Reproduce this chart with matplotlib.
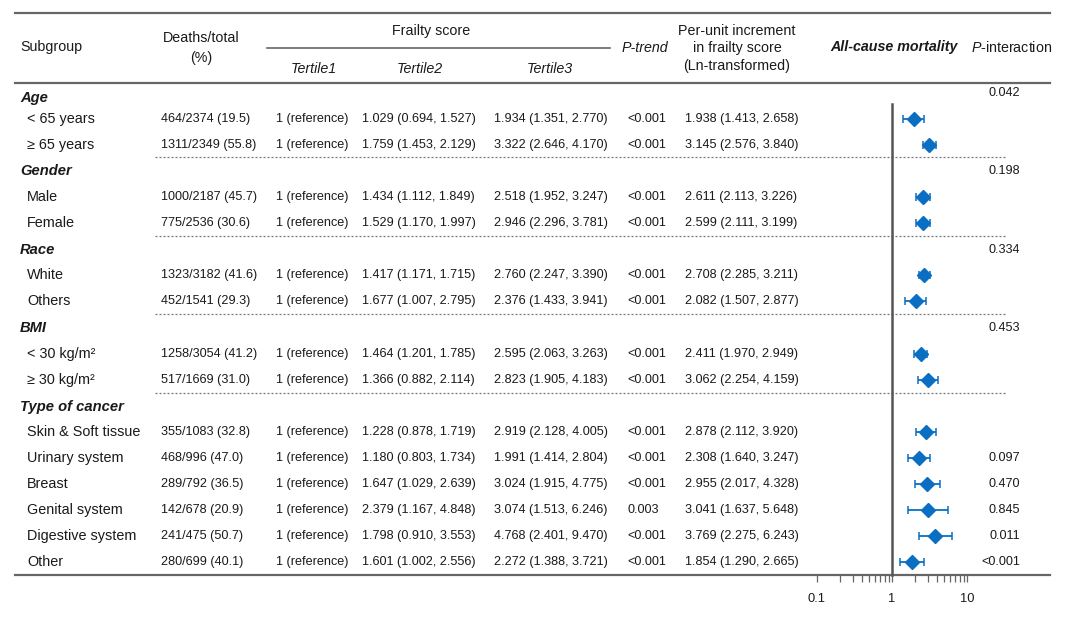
import numpy as np
import matplotlib
matplotlib.use("Agg")
import matplotlib.pyplot as plt
from matplotlib.ticker import FixedLocator, NullFormatter, FixedFormatter

plt.rcParams['font.family'] = ['Liberation Sans', 'DejaVu Sans']
plt.rcParams['mathtext.fontset'] = 'custom'
plt.rcParams['mathtext.rm'] = 'Liberation Sans'
plt.rcParams['mathtext.it'] = 'Liberation Sans:italic'

groups = ["Age", "Gender", "Race", "BMI", "Type of cancer"]
group_p = ["0.042", "0.198", "0.334", "0.453", ""]

subgroups = ["< 65 years", "\u2265 65 years", "Male", "Female", "White", "Others",
             "< 30 kg/m\u00b2", "\u2265 30 kg/m\u00b2", "Skin & Soft tissue",
             "Urinary system", "Breast", "Genital system", "Digestive system", "Other"]

deaths = ["464/2374 (19.5)", "1311/2349 (55.8)", "1000/2187 (45.7)", "775/2536 (30.6)",
          "1323/3182 (41.6)", "452/1541 (29.3)", "1258/3054 (41.2)", "517/1669 (31.0)",
          "355/1083 (32.8)", "468/996 (47.0)", "289/792 (36.5)", "142/678 (20.9)",
          "241/475 (50.7)", "280/699 (40.1)"]

tertile2 = ["1.029 (0.694, 1.527)", "1.759 (1.453, 2.129)", "1.434 (1.112, 1.849)",
            "1.529 (1.170, 1.997)", "1.417 (1.171, 1.715)", "1.677 (1.007, 2.795)",
            "1.464 (1.201, 1.785)", "1.366 (0.882, 2.114)", "1.228 (0.878, 1.719)",
            "1.180 (0.803, 1.734)", "1.647 (1.029, 2.639)", "2.379 (1.167, 4.848)",
            "1.798 (0.910, 3.553)", "1.601 (1.002, 2.556)"]

tertile3 = ["1.934 (1.351, 2.770)", "3.322 (2.646, 4.170)", "2.518 (1.952, 3.247)",
            "2.946 (2.296, 3.781)", "2.760 (2.247, 3.390)", "2.376 (1.433, 3.941)",
            "2.595 (2.063, 3.263)", "2.823 (1.905, 4.183)", "2.919 (2.128, 4.005)",
            "1.991 (1.414, 2.804)", "3.024 (1.915, 4.775)", "3.074 (1.513, 6.246)",
            "4.768 (2.401, 9.470)", "2.272 (1.388, 3.721)"]

p_trend = ["<0.001"] * 11 + ["0.003", "<0.001", "<0.001"]

hr = np.array([1.938, 3.145, 2.611, 2.599, 2.708, 2.082, 2.411, 3.062,
               2.878, 2.308, 2.955, 3.041, 3.769, 1.854])
lo = np.array([1.413, 2.576, 2.113, 2.111, 2.285, 1.507, 1.970, 2.254,
               2.112, 1.640, 2.017, 1.637, 2.275, 1.290])
hi = np.array([2.658, 3.840, 3.226, 3.199, 3.211, 2.877, 2.949, 4.159,
               3.920, 3.247, 4.328, 5.648, 6.243, 2.665])

row_p = ["", "", "", "", "", "", "", "", "", "0.097", "0.470", "0.845", "0.011", "<0.001"]

# ---- layout (pixel coordinates of a 1080x617 canvas) ----
W, H = 1080, 617
header_y = [98, 171, 250, 328, 407]
group_p_y = [93, 171, 250, 328, 407]
row_y = [119, 145, 197, 223, 275, 301, 354, 380, 432, 458, 484, 510, 536, 562]
dash_y = [157, 236, 314, 393]

fig = plt.figure(figsize=(W / 100, H / 100), dpi=100)
ax = fig.add_axes([0, 0, 1, 1])
ax.set_xlim(0, W)
ax.set_ylim(H, 0)
ax.axis('off')

txt = '#1a1a1a'
rule = '#666666'

# rules
ax.plot([15, 1050], [13, 13], color=rule, lw=1.6)
ax.plot([15, 1050], [83, 83], color=rule, lw=1.6)
ax.plot([15, 1050], [575, 575], color=rule, lw=1.6)
ax.plot([267, 610], [48, 48], color=rule, lw=1.2)
for y in dash_y:
    ax.plot([155, 1007], [y, y], color='#777777', lw=0.9, ls=(0, (1.6, 1.6)))

# header
hs = 10.3
ax.text(20, 47, "Subgroup", fontsize=hs, va='center', color=txt)
ax.text(201, 38, "Deaths/total", fontsize=hs, va='center', ha='center', color=txt)
ax.text(201, 58, "(%)", fontsize=hs, va='center', ha='center', color=txt)
ax.text(431, 31, "Frailty score", fontsize=hs, va='center', ha='center', color=txt)
ax.text(314, 69, "Tertile1", fontsize=hs, style='italic', va='center', ha='center', color=txt)
ax.text(420, 69, "Tertile2", fontsize=hs, style='italic', va='center', ha='center', color=txt)
ax.text(550, 69, "Tertile3", fontsize=hs, style='italic', va='center', ha='center', color=txt)
ax.text(645, 48, "P-trend", fontsize=hs, style='italic', va='center', ha='center', color=txt)
ax.text(737, 31, "Per-unit increment", fontsize=hs, va='center', ha='center', color=txt)
ax.text(737, 48, "in frailty score", fontsize=hs, va='center', ha='center', color=txt)
ax.text(737, 66, "(Ln-transformed)", fontsize=hs, va='center', ha='center', color=txt)
ax.text(894, 47, "All-cause mortality", fontsize=hs, style='italic', weight='bold',
        va='center', ha='center', color=txt)
ax.text(1012, 47, r"$\it{P}$-interaction", fontsize=hs, va='center', ha='center', color=txt)

# group headers
for g, y, p, py in zip(groups, header_y, group_p, group_p_y):
    ax.text(20, y, g, fontsize=10.6, style='italic', weight='bold', va='center', color=txt)
    if p:
        ax.text(1020, py, p, fontsize=9.1, va='center', ha='right', color=txt)

# rows
ds = 9.1
for i, y in enumerate(row_y):
    ax.text(27, y, subgroups[i], fontsize=10.4, va='center', color=txt)
    ax.text(161, y, deaths[i], fontsize=ds, va='center', color=txt)
    ax.text(276, y, "1 (reference)", fontsize=ds, va='center', color=txt)
    ax.text(362, y, tertile2[i], fontsize=ds, va='center', color=txt)
    ax.text(494, y, tertile3[i], fontsize=ds, va='center', color=txt)
    ax.text(627, y, p_trend[i], fontsize=ds, va='center', color=txt)
    ax.text(685, y, "%.3f (%.3f, %.3f)" % (hr[i], lo[i], hi[i]), fontsize=ds,
            va='center', color=txt)
    if row_p[i]:
        ax.text(1020, y, row_p[i], fontsize=ds, va='center', ha='right', color=txt)

# forest plot
left, right = 817, 967
top, bottom = 13, 575
fa = fig.add_axes([left / W, (H - bottom) / H, (right - left) / W, (bottom - top) / H])
fa.set_xscale('log')
fa.set_xlim(0.1, 10)
fa.set_ylim(bottom, top)
fa.patch.set_alpha(0)
for s in fa.spines.values():
    s.set_visible(False)
fa.set_yticks([])

blue = '#0a6fc2'
fa.errorbar(hr, row_y, xerr=[hr - lo, hi - hr], fmt='D', color=blue, ms=7,
            elinewidth=1.3, capsize=3, capthick=1.1, clip_on=False)
fa.plot([1, 1], [104, bottom], color='#555555', lw=1.8, clip_on=False)

fa.xaxis.set_major_locator(FixedLocator([0.1, 1, 10]))
fa.xaxis.set_major_formatter(FixedFormatter(["0.1", "1", "10"]))
fa.xaxis.set_minor_formatter(NullFormatter())
fa.tick_params(axis='x', which='both', direction='out', length=4.8, width=0.9,
               color='#666666', labelsize=9.3, labelcolor=txt, pad=8)

fig.savefig("out.png", dpi=100)
